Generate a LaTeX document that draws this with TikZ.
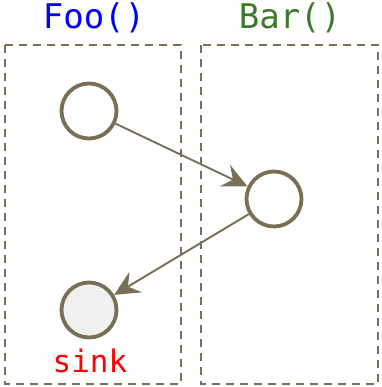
\documentclass[tikz,border=0pt]{standalone}
\usepackage{fontspec}
\setmonofont{DejaVu Sans Mono}
\usetikzlibrary{arrows.meta}
\definecolor{brn}{HTML}{7A6E55}
\definecolor{grn}{HTML}{3A7A2A}
\begin{document}
\begin{tikzpicture}[x=1pt,y=-1pt,
  box/.style={draw=brn,line width=2.2pt,dash pattern=on 8pt off 6pt},
  vert/.style={circle,draw=brn,line width=3.8pt,minimum size=55pt,inner sep=0pt},
  edge/.style={draw=brn,line width=1.9pt,-{Stealth[length=25pt,width=24pt,inset=9pt]}},
  lbl/.style={font=\ttfamily\fontsize{34}{34}\selectfont,inner sep=0pt}]
\useasboundingbox (0,0) rectangle (381,387);
\draw[box] (5,45) rectangle (181,384);
\draw[box] (201,45) rectangle (378,384);
\node[lbl,text=blue] (foo) at (94,18) {Foo()};
\node[lbl,text=grn] (bar) at (290,18) {Bar()};
\node[vert] (a) at (89,111) {};
\node[vert] (b) at (274,199) {};
\node[vert,fill=black!6] (c) at (89,310) {};
\node[lbl,text=red,font=\ttfamily\fontsize{31}{31}\selectfont] (s) at (90,361) {sink};
\draw[edge] (a) -- (b);
\draw[edge] (b) -- (c);
\end{tikzpicture}
\end{document}
